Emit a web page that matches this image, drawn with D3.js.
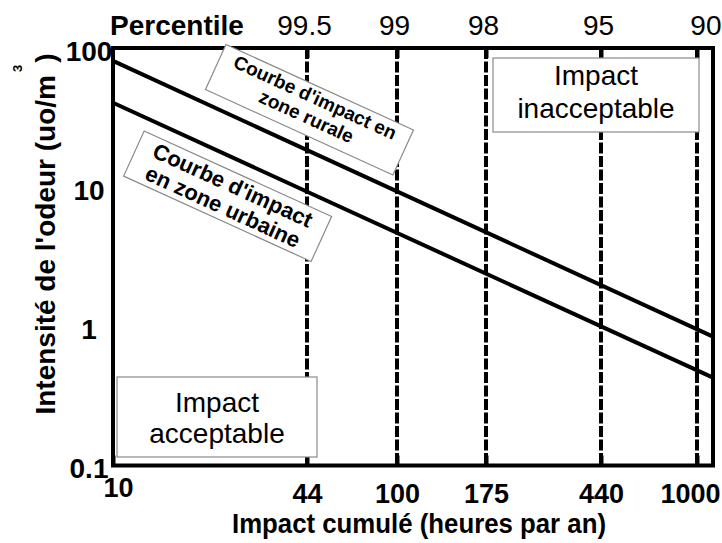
<!DOCTYPE html>
<meta charset="utf-8">
<html>
<head>
    <style>
        body { margin: 0; background: #fff; }
        svg text { font-family: "Liberation Sans", Arial, sans-serif; fill: #000; }
        .tick line { stroke: #000; stroke-width: 4; }
        .domain { display: none; }
        .box { fill: #fff; stroke: #8a8a8a; stroke-width: 1.2; }
        .curve { fill: none; stroke: #000; stroke-width: 4; }
        .pline { stroke: #000; stroke-width: 4; stroke-dasharray: 11,2.5; }
    </style>
    <script src="https://d3js.org/d3.v7.min.js"></script>
</head>
<body>
  <svg width="722" height="543"></svg>
  <script>

      // curves: odour intensity (uo/m3) vs cumulated hours per year
      var hours = [10, 1150];
      var rural = [80.8, 0.844];
      var urban = [40.4, 0.428];

      var hourTicks = [10, 44, 100, 175, 440, 1000];
      var percentileHours = [44, 100, 175, 440, 1000];
      var percentileLabels = ["99.5", "99", "98", "95", "90"];
      var odourTicks = [0.1, 1, 10, 100];

      var svg = d3.select("svg"),
          plotLeft = 113, plotRight = 713,
          plotTop = 48, plotBottom = 465.5;

      // the hour axis of the figure is not a clean log axis, so it is
      // calibrated on its tick positions (linear between log values)
      var x = d3.scaleLinear()
          .domain([10, 44, 100, 175, 440, 1000, 1150].map(Math.log10))
          .range([plotLeft, 307, 397, 486, 601, 697, plotRight]);
      function xh(h) { return x(Math.log10(h)); }

      var y = d3.scaleLog().domain([0.1, 100]).range([plotBottom, plotTop]);

      // percentile dashed lines
      svg.selectAll(".pline")
         .data(percentileHours)
         .enter().append("line")
         .attr("class", "pline")
         .attr("x1", function(d) { return xh(d); })
         .attr("x2", function(d) { return xh(d); })
         .attr("y1", plotTop)
         .attr("y2", plotBottom);

      // bottom axis (hours)
      var bottomAxis = svg.append("g")
         .attr("transform", "translate(0," + plotBottom + ")")
         .call(d3.axisBottom(x)
             .tickValues(hourTicks.map(Math.log10))
             .tickFormat(function(d) { return Math.round(Math.pow(10, d)); })
             .tickSize(-10));
      bottomAxis.selectAll("text")
         .attr("y", function(d, i) { return i == 0 ? 31.5 : 37.5; })
         .attr("dy", 0)
         .attr("dx", function(d, i) { return i == 0 ? 5 : (i == hourTicks.length - 1 ? -7 : 0); })
         .style("font-size", "27px")
         .style("font-weight", "bold");

      // top axis (percentiles)
      var topAxis = svg.append("g")
         .attr("transform", "translate(0," + plotTop + ")")
         .call(d3.axisTop(x)
             .tickValues(percentileHours.map(Math.log10))
             .tickFormat(function(d, i) { return percentileLabels[i]; })
             .tickSize(-10));
      topAxis.selectAll("text")
         .attr("y", -13)
         .attr("dy", 0)
         .attr("text-anchor", function(d, i) { return i == percentileLabels.length - 1 ? "end" : "middle"; })
         .attr("dx", function(d, i) { return i == percentileLabels.length - 1 ? 24 : -3; })
         .style("font-size", "28px");

      svg.append("text")
         .attr("x", 110)
         .attr("y", 35)
         .style("font-size", "28px")
         .style("font-weight", "bold")
         .text("Percentile");

      // left axis (odour)
      var leftAxis = svg.append("g")
         .attr("transform", "translate(" + plotLeft + ",0)")
         .call(d3.axisLeft(y)
             .tickValues(odourTicks)
             .tickFormat(function(d) { return String(d); })
             .tickSize(0));
      leftAxis.selectAll("text")
         .attr("text-anchor", "middle")
         .attr("x", -24)
         .attr("dy", "0.35em")
         .attr("y", 2.5)
         .style("font-size", "28px")
         .style("font-weight", "bold");

      // curves
      var line = d3.line()
          .x(function(d) { return xh(d.h); })
          .y(function(d) { return y(d.v); });

      [rural, urban].forEach(function(values) {
          svg.append("path")
             .attr("class", "curve")
             .attr("d", line(hours.map(function(h, i) { return {h: h, v: values[i]}; })));
      });

      // frame
      svg.append("rect")
         .attr("x", plotLeft)
         .attr("y", plotTop)
         .attr("width", plotRight - plotLeft)
         .attr("height", plotBottom - plotTop)
         .attr("fill", "none")
         .attr("stroke", "#000")
         .attr("stroke-width", 4);

      // rotated curve labels
      function curveLabel(h, v, lines, size, base, gap) {
          var lg = svg.append("g")
             .attr("transform", "translate(" + xh(h) + "," + y(v) + ") rotate(24.5)");
          lg.append("rect")
             .attr("class", "box")
             .attr("x", -103).attr("y", -24.75)
             .attr("width", 206).attr("height", 49.5);
          lines.forEach(function(t, i) {
              lg.append("text")
                 .attr("text-anchor", "middle")
                 .attr("y", base + i * gap)
                 .style("font-size", size + "px")
                 .style("font-weight", "bold")
                 .text(t);
          });
      }
      curveLabel(45, 36, ["Courbe d'impact en", "zone rurale"], 19, -7, 21);
      curveLabel(24, 8.6, ["Courbe d'impact", "en zone urbaine"], 22, -4.5, 23.5);

      // impact zones
      function zoneBox(x0, y0, w, h, lines, bases) {
          svg.append("rect")
             .attr("class", "box")
             .attr("x", x0).attr("y", y0)
             .attr("width", w).attr("height", h);
          lines.forEach(function(t, i) {
              svg.append("text")
                 .attr("text-anchor", "middle")
                 .attr("x", x0 + w / 2)
                 .attr("y", bases[i])
                 .style("font-size", "28px")
                 .text(t);
          });
      }
      zoneBox(493, 58, 206, 74, ["Impact", "inacceptable"], [85, 118]);
      zoneBox(117, 377, 200, 80, ["Impact", "acceptable"], [412, 443]);

      // axis titles
      svg.append("text")
         .attr("x", 419)
         .attr("y", 533)
         .attr("text-anchor", "middle")
         .attr("textLength", 374)
         .attr("lengthAdjust", "spacingAndGlyphs")
         .style("font-size", "28px")
         .style("font-weight", "bold")
         .text("Impact cumulé (heures par an)");

      var yt = svg.append("text")
         .attr("transform", "translate(55,234) rotate(-90)")
         .attr("text-anchor", "middle")
         .style("font-size", "28px")
         .style("font-weight", "bold");
      yt.append("tspan").text("Intensité de l'odeur (uo/m");
      yt.append("tspan").attr("dx", 3).attr("dy", -33).style("font-size", "13px").text("3");
      yt.append("tspan").attr("dx", 2).attr("dy", 33).text(")");

  </script>
</body>
</html>
